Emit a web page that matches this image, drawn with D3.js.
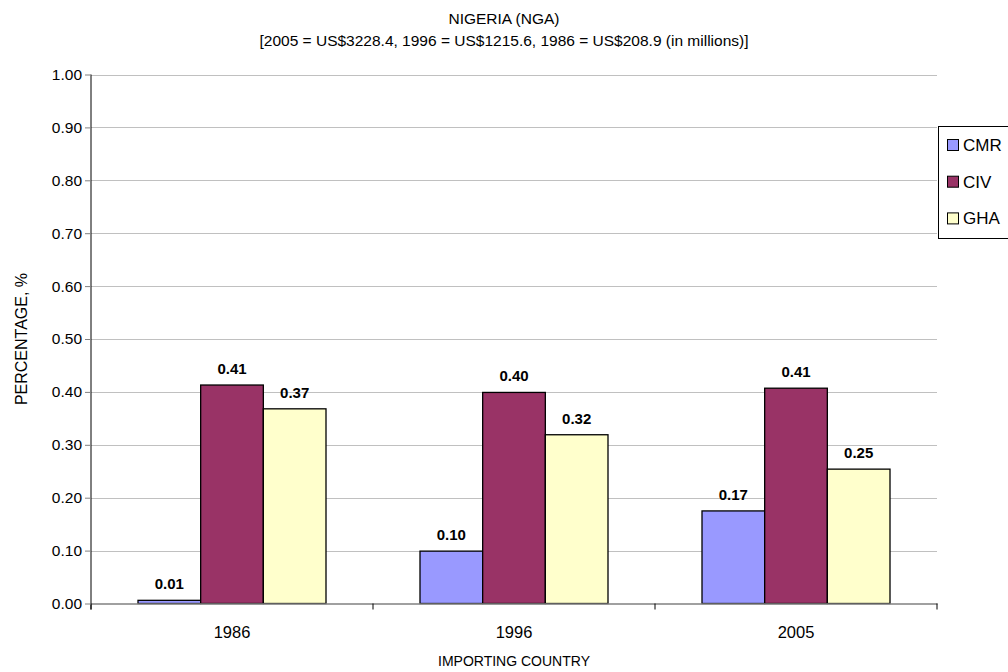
<!DOCTYPE html>
<html><head><meta charset="utf-8">
<script src="https://cdn.jsdelivr.net/npm/d3@7"></script>
<style>body{margin:0;background:#fff}svg{display:block}text{font-family:"Liberation Sans",Arial,sans-serif}</style>
</head><body><svg id="c" width="1008" height="672"></svg>
<script>
const categories = ["1986", "1996", "2005"];
const seriesNames = ["CMR", "CIV", "GHA"];
const CMR = [0.006, 0.099, 0.175];
const CIV = [0.413, 0.399, 0.407];
const GHA = [0.368, 0.319, 0.254];
const labelsCMR = ["0.01", "0.10", "0.17"];
const labelsCIV = ["0.41", "0.40", "0.41"];
const labelsGHA = ["0.37", "0.32", "0.25"];
const yTicks = [0, 0.1, 0.2, 0.3, 0.4, 0.5, 0.6, 0.7, 0.8, 0.9, 1.0];
const colors = ["#9999ff", "#993366", "#ffffcc"];

const series = [CMR, CIV, GHA];
const labels = [labelsCMR, labelsCIV, labelsGHA];

const svg = d3.select("#c");
const L = 91, R = 937, T = 74.5, B = 603.5;

const x0 = d3.scaleBand().domain(categories).range([L, R]).paddingInner(0).paddingOuter(0);
const bw = x0.bandwidth();
const groupW = bw * 3 / 4.5;
const x1 = d3.scaleBand().domain(seriesNames).range([0, groupW]).padding(0);
const y = d3.scaleLinear().domain([0, 1]).range([B, T]);

// gridlines
svg.append("g").selectAll("line").data(yTicks.slice(1)).join("line")
  .attr("x1", L).attr("x2", R).attr("y1", d => Math.round(y(d)) + 0.5).attr("y2", d => Math.round(y(d)) + 0.5)
  .attr("stroke", "#c0c0c0").attr("stroke-width", 1);

// bars
const groups = svg.append("g").selectAll("g").data(categories).join("g")
  .attr("transform", c => `translate(${x0(c) + (bw - groupW) / 2},0)`);
groups.each(function(c, ci) {
  const g = d3.select(this);
  seriesNames.forEach((s, si) => {
    const v = series[si][ci];
    g.append("rect")
      .attr("x", x1(s)).attr("width", x1.bandwidth())
      .attr("y", y(v)).attr("height", B - y(v))
      .attr("fill", colors[si]).attr("stroke", "#000").attr("stroke-width", 1.3);
    g.append("text")
      .attr("x", x1(s) + x1.bandwidth() / 2).attr("y", y(v) - 11)
      .attr("text-anchor", "middle").attr("font-size", 15).attr("font-weight", "bold").attr("fill", "#000")
      .text(labels[si][ci]);
  });
});

// x axis
const xAxis = d3.axisBottom(x0).tickSize(0).tickPadding(0);
const xg = svg.append("g").attr("transform", `translate(0,${B})`).call(xAxis);
xg.select(".domain").attr("stroke", "#808080").attr("stroke-width", 1.5);
xg.selectAll(".tick text").attr("font-size", 16.5).attr("font-family", "Liberation Sans, Arial, sans-serif").attr("fill", "#000").attr("dy", 0).attr("y", 34);
xg.selectAll(".tick line").remove();
svg.append("g").selectAll("line").data([0, 1, 2, 3]).join("line")
  .attr("x1", i => i < 3 ? x0(categories[i]) : R).attr("x2", i => i < 3 ? x0(categories[i]) : R)
  .attr("y1", B).attr("y2", B + 6).attr("stroke", "#000");

// y axis
const yAxis = d3.axisLeft(y).tickValues(yTicks).tickFormat(d3.format(".2f")).tickSize(6).tickPadding(3);
const yg = svg.append("g").attr("transform", `translate(${L},0)`).call(yAxis);
yg.select(".domain").attr("stroke", "#000").attr("d", `M0,${T}V${B + 6}`);
yg.selectAll(".tick line").attr("stroke", "#808080");
yg.selectAll(".tick text").attr("font-size", 15.5).attr("font-family", "Liberation Sans, Arial, sans-serif").attr("fill", "#000");

// titles
svg.append("text").attr("x", 504).attr("y", 24).attr("text-anchor", "middle").attr("font-size", 15.5).text("NIGERIA (NGA)");
svg.append("text").attr("x", 504).attr("y", 46).attr("text-anchor", "middle").attr("font-size", 15.5)
  .text("[2005 = US$3228.4, 1996 = US$1215.6, 1986 = US$208.9 (in millions)]");
svg.append("text").attr("x", 514).attr("y", 666).attr("text-anchor", "middle").attr("font-size", 14).text("IMPORTING COUNTRY");
svg.append("text").attr("transform", `translate(27,${(T + B) / 2}) rotate(-90)`).attr("text-anchor", "middle")
  .attr("font-size", 16).text("PERCENTAGE, %");

// legend
const lg = svg.append("g");
lg.append("rect").attr("x", 938.5).attr("y", 126.5).attr("width", 80).attr("height", 112)
  .attr("fill", "#fff").attr("stroke", "#000").attr("stroke-width", 1);
seriesNames.forEach((s, i) => {
  const cy = 145 + i * 36.7;
  lg.append("rect").attr("x", 947.5).attr("y", cy - 5.5).attr("width", 11).attr("height", 11)
    .attr("fill", colors[i]).attr("stroke", "#000").attr("stroke-width", 1);
  lg.append("text").attr("x", 963).attr("y", cy + 6).attr("font-size", 17).text(s);
});
</script></body></html>
